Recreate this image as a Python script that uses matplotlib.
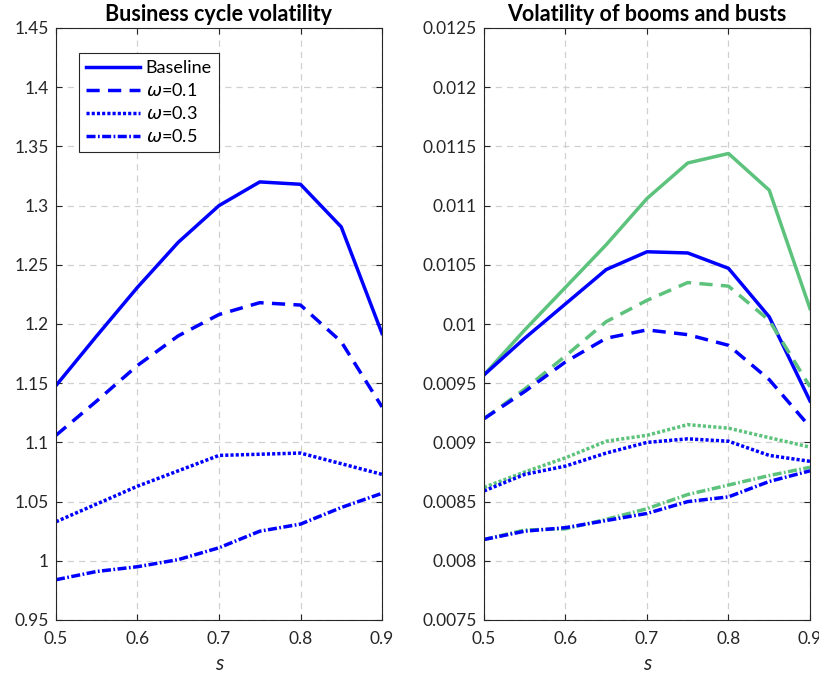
import matplotlib
matplotlib.use("Agg")
import matplotlib.pyplot as plt
import numpy as np

s = [0.5, 0.55, 0.6, 0.65, 0.7, 0.75, 0.8, 0.85, 0.9]

# Left panel: business cycle volatility
bc_base = [1.148, 1.190, 1.231, 1.269, 1.300, 1.320, 1.318, 1.282, 1.192]
bc_w01 = [1.106, 1.135, 1.165, 1.190, 1.208, 1.218, 1.216, 1.185, 1.130]
bc_w03 = [1.033, 1.048, 1.063, 1.076, 1.089, 1.090, 1.091, 1.082, 1.073]
bc_w05 = [0.984, 0.991, 0.995, 1.001, 1.011, 1.025, 1.031, 1.045, 1.057]

# Right panel: volatility of booms (green) and busts (blue)
bb_blue_base = [0.00957, 0.00988, 0.01017, 0.01046, 0.01061, 0.01060, 0.01047, 0.01006, 0.00935]
bb_green_base = [0.00957, 0.00995, 0.01031, 0.01067, 0.01106, 0.01136, 0.01144, 0.01113, 0.01013]
bb_blue_w01 = [0.00920, 0.00943, 0.00968, 0.00988, 0.00995, 0.00991, 0.00982, 0.00953, 0.00913]
bb_green_w01 = [0.00920, 0.00945, 0.00973, 0.01002, 0.01020, 0.01035, 0.01032, 0.01003, 0.00947]
bb_blue_w03 = [0.00859, 0.00873, 0.00880, 0.00891, 0.00900, 0.00903, 0.00901, 0.00889, 0.00884]
bb_green_w03 = [0.00862, 0.00875, 0.00887, 0.00901, 0.00906, 0.00915, 0.00912, 0.00904, 0.00896]
bb_blue_w05 = [0.00818, 0.00825, 0.00828, 0.00834, 0.00840, 0.00850, 0.00854, 0.00867, 0.00876]
bb_green_w05 = [0.00818, 0.00826, 0.00827, 0.00835, 0.00844, 0.00856, 0.00864, 0.00872, 0.00879]

legend_labels = ["Baseline", r"$\omega$=0.1", r"$\omega$=0.3", r"$\omega$=0.5"]
left_yticks = [0.95, 1.0, 1.05, 1.1, 1.15, 1.2, 1.25, 1.3, 1.35, 1.4, 1.45]
left_yticklabels = ["0.95", "1", "1.05", "1.1", "1.15", "1.2", "1.25", "1.3", "1.35", "1.4", "1.45"]
right_yticks = [0.0075, 0.008, 0.0085, 0.009, 0.0095, 0.01, 0.0105, 0.011, 0.0115, 0.012, 0.0125]
right_yticklabels = ["0.0075", "0.008", "0.0085", "0.009", "0.0095", "0.01", "0.0105", "0.011", "0.0115", "0.012", "0.0125"]
xticks = [0.5, 0.6, 0.7, 0.8, 0.9]
xticklabels = ["0.5", "0.6", "0.7", "0.8", "0.9"]

plt.rcParams['font.family'] = ['Lato', 'DejaVu Sans']
plt.rcParams['mathtext.fontset'] = 'dejavusans'

BLUE = (0, 0, 1)
GREEN = "#5cc27c"
LW = 2.5
styles = [dict(linestyle='-'),
          dict(linestyle=(0, (3.8, 2.4))),
          dict(linestyle=(0, (0.9, 0.6))),
          dict(linestyle=(0, (2.6, 0.7, 0.5, 0.7)))]

fig = plt.figure(figsize=(8.2, 6.8), dpi=100)
ax1 = fig.add_axes([56/820, 1-620/680, 326/820, 592/680])
ax2 = fig.add_axes([484/820, 1-620/680, 326/820, 592/680])

def style_axes(ax, yticks, yticklabels, ylim):
    ax.set_xlim(0.5, 0.9)
    ax.set_ylim(*ylim)
    ax.set_xticks(xticks)
    ax.set_xticklabels(xticklabels)
    ax.set_yticks(yticks)
    ax.set_yticklabels(yticklabels)
    ax.grid(True, color='#d0d0d0', linestyle=(0, (5, 4)), linewidth=0.9)
    ax.set_axisbelow(True)
    ax.tick_params(direction='in', top=True, right=True, length=4,
                   labelsize=12.5, colors='#262626', width=0.8)
    ax.tick_params(axis='x', pad=8)
    ax.tick_params(axis='y', pad=5)
    for sp in ax.spines.values():
        sp.set_color('#262626')
        sp.set_linewidth(0.8)
    ax.set_xlabel("s", fontsize=15, style='italic', color='#262626', labelpad=5)

series_left = [bc_base, bc_w01, bc_w03, bc_w05]
for ys, st, lab in zip(series_left, styles, legend_labels):
    ax1.plot(s, ys, color=BLUE, linewidth=LW, label=lab, **st)
style_axes(ax1, left_yticks, left_yticklabels, (0.95, 1.45))
ax1.set_title("Business cycle volatility", fontsize=15.5, fontweight='bold', pad=5)
leg = ax1.legend(loc='upper left', bbox_to_anchor=(0.07, 0.958), fontsize=13,
                 fancybox=False, framealpha=1, edgecolor='#262626',
                 handlelength=3.0, borderpad=0.4, labelspacing=0.33, handletextpad=0.3,
                 borderaxespad=0)
leg.get_frame().set_linewidth(0.8)

greens = [bb_green_base, bb_green_w01, bb_green_w03, bb_green_w05]
blues = [bb_blue_base, bb_blue_w01, bb_blue_w03, bb_blue_w05]
for g, b, st in zip(greens, blues, styles):
    ax2.plot(s, g, color=GREEN, linewidth=LW, **st)
    ax2.plot(s, b, color=BLUE, linewidth=LW, **st)
style_axes(ax2, right_yticks, right_yticklabels, (0.0075, 0.0125))
ax2.set_title("Volatility of booms and busts", fontsize=15.5, fontweight='bold', pad=5)

fig.savefig("out.png", dpi=100)
